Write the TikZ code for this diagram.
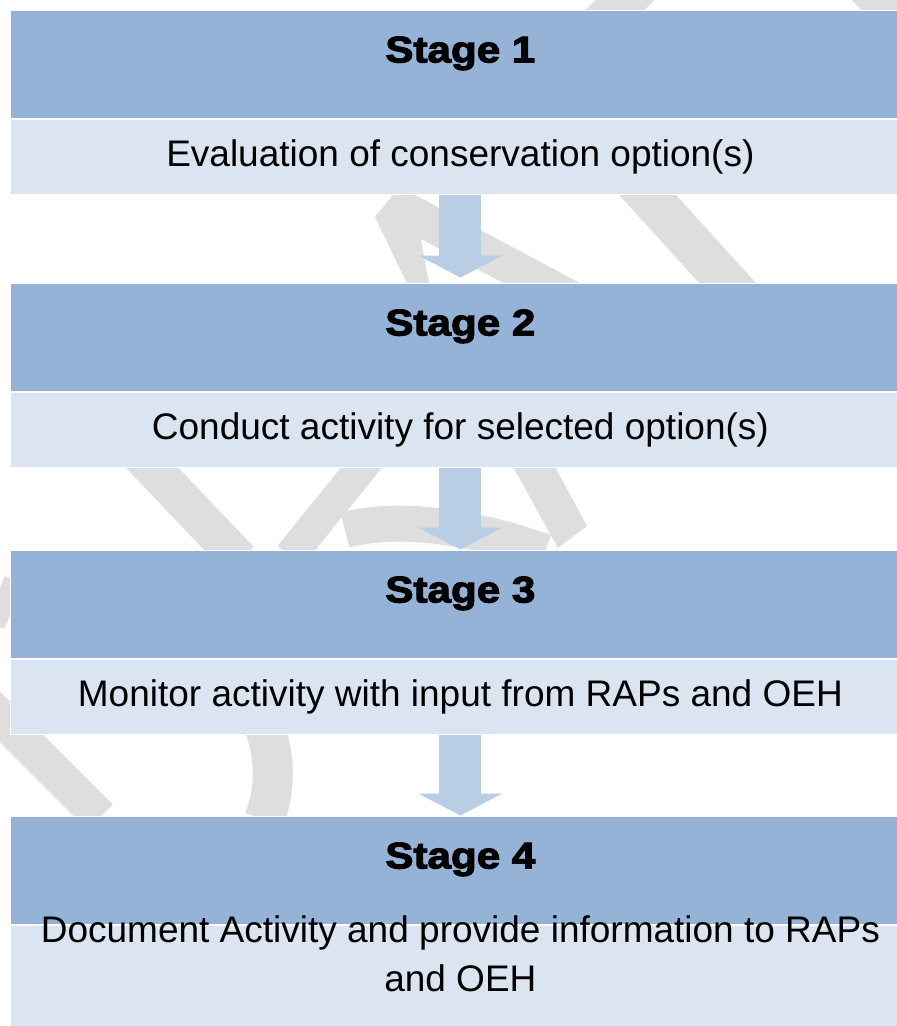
\documentclass[tikz,border=0pt]{standalone}
\usepackage{fontspec}
\setmainfont{Liberation Sans}
\newfontfamily\headfont[FakeStretch=1.14,FakeBold=3]{Liberation Sans Bold}
\usetikzlibrary{positioning, arrows.meta}

\definecolor{stagefill}{HTML}{95B3D7}
\definecolor{descfill}{HTML}{DBE5F1}
\definecolor{flowfill}{HTML}{B9CDE5}
\definecolor{markgrey}{HTML}{DEDEDE}

\begin{document}
\begin{tikzpicture}[
  x=1pt, y=-1pt,
  stagebox/.style={fill=stagefill, draw=white, line width=0.75pt, inner sep=0pt,
    minimum width=900pt, minimum height=108.5pt, text height=27pt, text depth=30.5pt,
    font=\headfont\fontsize{37}{44}\selectfont},
  descbox/.style={fill=descfill, draw=white, line width=0.75pt, inner sep=0pt, align=center,
    minimum width=900pt, minimum height=75pt, text height=27pt, text depth=8pt,
    font=\fontsize{37}{48.5}\selectfont},
  flow/.style={draw=flowfill, line width=42pt,
    -{Triangle[width=84pt, length=22pt, line width=0pt]}},
  wband/.style={draw=markgrey}
]
  \fill[white] (0,0) rectangle (897,1026);
  \useasboundingbox (0,0) rectangle (897,1026);

  % watermark strokes behind the boxes
  \draw[wband, line width=42pt] (640,-15) -- (600,25);
  \draw[wband, line width=40pt] (865,-15) -- (905,25);
  \fill[markgrey] (375,217) -- (397,190) -- (412,190) -- (432,300) -- (415,300) -- cycle;
  \draw[wband, line width=36pt] (405,210) -- (620,325);
  \draw[wband, line width=42pt] (625,170) -- (743,300);
  \draw[wband, line width=38pt] (140,455) -- (240,560);
  \draw[wband, line width=32pt] (290,556) -- (370,457);
  \draw[wband, line width=36pt] (345,530) .. controls (390,518) and (460,522) .. (545,552);
  \fill[markgrey] (505,452) -- (547,452) -- (587,526) -- (558,548) -- cycle;
  \draw[wband, line width=20pt] (-5,625) -- (14,580);
  \draw[wband, line width=36pt] (-20,697) -- (100,817);
  \draw[wband, line width=40pt] (262,720) .. controls (276,755) and (276,790) .. (264,820);

  \node[stagebox, anchor=north west] (stage1) at (10,9.5) {Stage 1};
  \node[descbox, below=0pt of stage1] (desc1) {Evaluation of conservation option(s)};
  \node[stagebox, below=88pt of desc1] (stage2) {Stage 2};
  \node[descbox, below=0pt of stage2] (desc2) {Conduct activity for selected option(s)};
  \node[stagebox, below=82pt of desc2] (stage3) {Stage 3};
  \node[descbox, below=0pt of stage3] (desc3) {Monitor activity with input from RAPs and OEH};
  \node[stagebox, below=81pt of desc3] (stage4) {Stage 4};
  \node[descbox, below=0pt of stage4, minimum height=106pt, text depth=0.5pt] (desc4)
    {Document Activity and provide information to RAPs\\and OEH};

  \draw[flow] (desc1.south) -- ([yshift=5pt]stage2.north);
  \draw[flow] (desc2.south) -- (stage3.north);
  \draw[flow] (desc3.south) -- (stage4.north);
\end{tikzpicture}
\end{document}
